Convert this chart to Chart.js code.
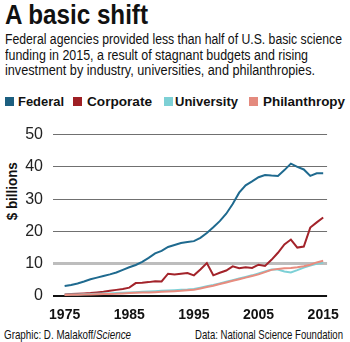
<!DOCTYPE html>
<html>
<head>
<meta charset="utf-8">
<script src="https://cdn.jsdelivr.net/npm/chart.js@4.4.1/dist/chart.umd.min.js"></script>
<style>
  html, body { margin:0; padding:0; background:#fff; }
  body { width:350px; height:342px; position:relative; overflow:hidden;
         font-family:"Liberation Sans",Arial,sans-serif; color:#111; }
  .t { position:absolute; white-space:nowrap; transform-origin:0 0; }
  #title { left:5px; top:2px; font-size:27px; line-height:27px; font-weight:bold; }
  .sub { left:5px; font-size:14px; line-height:15.5px; }
  .sw { position:absolute; top:97px; width:9px; height:9px; }
  .lt { top:94.6px; font-size:13.5px; line-height:13.5px; font-weight:bold; }
  #ytitle { position:absolute; left:12px; top:191px; width:0; height:0; }
  #ytitle span { position:absolute; white-space:nowrap; font-size:14.5px; line-height:14.5px; font-weight:bold; }
  #wrap { position:absolute; left:0; top:115px; width:350px; height:210px; }
  .ft { top:327.7px; font-size:13px; line-height:13px; }
</style>
</head>
<body>
<div id="title" class="t" data-w="143">A basic shift</div>
<div class="t sub" style="top:32.4px" data-w="337">Federal agencies provided less than half of U.S. basic science</div>
<div class="t sub" style="top:48.4px" data-w="303">funding in 2015, a result of stagnant budgets and rising</div>
<div class="t sub" style="top:63.4px" data-w="310">investment by industry, universities, and philanthropies.</div>
<div id="legend"></div>
<div id="ytitle"><span>$ billions</span></div>
<div id="wrap"><canvas id="c"></canvas></div>
<div class="t ft" style="left:4px" data-w="127">Graphic: D. Malakoff/<i>Science</i></div>
<div class="t ft" style="left:195px" data-w="148">Data: National Science Foundation</div>
<script>
const years = [1975,1976,1977,1978,1979,1980,1981,1982,1983,1984,1985,1986,1987,1988,1989,1990,1991,1992,1993,1994,1995,1996,1997,1998,1999,2000,2001,2002,2003,2004,2005,2006,2007,2008,2009,2010,2011,2012,2013,2014,2015];
const seriesNames = ["Federal","Corporate","University","Philanthropy"];
const seriesColors = ["#1f6a8f","#a3232a","#7dd0d6","#e88c7f"];
const legendColors = ["#1c5f80","#9e1f24","#7dd0d5","#e48a7e"];
const federal = [3.1,3.4,3.9,4.5,5.2,5.7,6.2,6.7,7.3,8.1,8.9,9.6,10.6,11.8,13.2,14.0,15.2,15.8,16.4,16.7,17.0,18.0,19.5,21.3,23.2,25.5,28.5,32.0,34.3,35.5,36.8,37.5,37.3,37.2,39.0,41.0,40.0,39.2,37.2,38.0,38.0];
const corporate = [0.5,0.6,0.7,0.8,0.9,1.1,1.3,1.6,1.9,2.2,2.6,4.0,4.1,4.3,4.6,4.5,6.9,6.7,6.9,7.1,6.4,8.2,10.2,6.4,7.2,7.9,9.2,8.6,8.9,8.7,9.7,9.3,11.2,13.4,16.0,17.5,15.0,15.3,21.2,22.8,24.3];
const university = [0.4,0.45,0.5,0.55,0.6,0.7,0.75,0.8,0.9,1.0,1.1,1.2,1.3,1.4,1.5,1.6,1.7,1.8,1.9,2.0,2.2,2.6,3.0,3.4,3.9,4.4,4.9,5.4,5.9,6.4,7.0,7.6,8.2,8.2,7.6,7.3,8.0,8.8,9.4,10.0,10.4];
const philanthropy = [0.3,0.35,0.4,0.45,0.5,0.55,0.6,0.65,0.7,0.8,0.9,1.0,1.05,1.1,1.2,1.3,1.4,1.5,1.6,1.75,1.9,2.3,2.8,3.2,3.7,4.2,4.7,5.2,5.7,6.2,6.7,7.4,8.1,8.4,8.6,8.7,8.9,9.2,9.7,10.4,10.9];
const yTicks = [0,10,20,30,40,50];
const xTicks = [1975,1985,1995,2005,2015];
const allSeries = [federal, corporate, university, philanthropy];

// legend
const swX = [5, 73, 164, 249];
const txX = [18, 87, 175, 263];
const txW = [46, 65, 63, 82];
const leg = document.getElementById('legend');
seriesNames.forEach((n,i)=>{
  const s = document.createElement('div'); s.className='sw';
  s.style.left = swX[i]+'px'; s.style.background = legendColors[i];
  leg.appendChild(s);
  const t = document.createElement('div'); t.className='t lt';
  t.style.left = txX[i]+'px'; t.dataset.w = txW[i]; t.textContent = n;
  leg.appendChild(t);
});

// condense text to the widths of the reference
document.querySelectorAll('.t[data-w]').forEach(el=>{
  const w = el.getBoundingClientRect().width;
  el.style.transform = 'scaleX(' + (parseFloat(el.dataset.w)/w) + ')';
});
const ys = document.querySelector('#ytitle span');
const yw = ys.getBoundingClientRect().width, yh = ys.getBoundingClientRect().height;
ys.style.left = (-yw/2)+'px'; ys.style.top = (-yh/2)+'px';
ys.style.transform = 'rotate(-90deg) scaleX(' + (58/yw) + ')';

const FONT = '"Liberation Sans",Arial,sans-serif';
new Chart(document.getElementById('c'), {
  type:'line',
  data:{
    datasets: allSeries.map((s,i)=>({
      label: seriesNames[i],
      data: years.map((y,j)=>({x:y, y:s[j]})),
      borderColor: seriesColors[i],
      borderWidth: 2,
      pointRadius: 0,
      tension: 0,
      fill:false
    })).reverse()
  },
  options:{
    responsive:true, maintainAspectRatio:false, animation:false,
    layout:{ padding:{ top:16, right:17, left:0, bottom:0 } },
    plugins:{ legend:{display:false}, tooltip:{enabled:false} },
    scales:{
      x:{
        type:'linear', min:1973.2, max:2015.6,
        afterBuildTicks: s => { s.ticks = xTicks.map(v=>({value:v})); },
        afterFit: s => { s.height = 29; },
        grid:{ display:false, drawTicks:false },
        border:{ display:false },
        ticks:{ padding:11, maxRotation:0, autoSkip:false, color:'#111',
                font:{ family:FONT, size:14, weight:'bold' },
                callback: v => String(v) }
      },
      y:{
        min:0, max:50,
        afterBuildTicks: s => { s.ticks = yTicks.map(v=>({value:v})); },
        afterFit: s => { s.width = 53; },
        grid:{ drawTicks:false,
               color: c => c.tick.value===0 ? '#111' : (c.tick.value===10 ? '#bdbdbd' : '#707070'),
               lineWidth: c => c.tick.value===0 ? 2 : (c.tick.value===10 ? 3 : 1) },
        border:{ display:false },
        ticks:{ padding:10, color:'#222', font:{ family:FONT, size:16 } }
      }
    }
  }
});
</script>
</body>
</html>
